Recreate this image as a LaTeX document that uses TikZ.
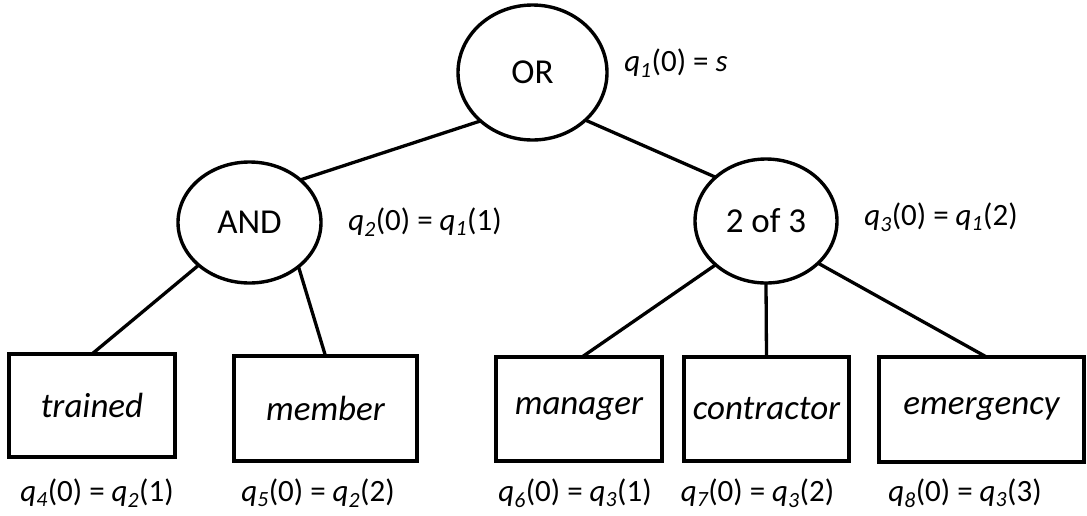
\documentclass[tikz,border=0pt]{standalone}
\usepackage{fontspec}
\setmainfont{Carlito}
\usetikzlibrary{shapes.geometric}
\newcommand\qsub[1]{\textit{q\textsubscript{#1}}}
\begin{document}
\begin{tikzpicture}[x=1pt,y=-1pt,
  gate/.style={ellipse,draw,line width=3.4pt,inner sep=0pt,outer sep=0pt,font=\fontsize{35}{40}\selectfont},
  leaf/.style={rectangle,draw,line width=3.6pt,inner sep=0pt,outer sep=0pt,font=\fontsize{35}{40}\selectfont\itshape},
  lbl/.style={inner sep=0pt,font=\fontsize{31}{36}\selectfont},
  edge/.style={line width=3.3pt}]
\useasboundingbox (0,0) rectangle (1087,515);
% gates
\node[gate,minimum width=149pt,minimum height=135pt] (OR) at (532.5,72.5) {OR};
\node[gate,minimum width=143pt,minimum height=121pt] (AND) at (249.5,222.5) {AND};
\node[gate,minimum width=142pt,minimum height=124pt] (TWO) at (766,221) {2 of 3};
% leaves
\node[leaf,minimum width=166pt,minimum height=103pt] (trained) at (92,405.5) {trained};
\node[leaf,minimum width=183pt,minimum height=105pt] (member) at (325.5,408.5) {member};
\node[leaf,minimum width=166pt,minimum height=104pt] (manager) at (579,409) {manager};
\node[leaf,minimum width=165pt,minimum height=104pt] (contractor) at (766.5,409) {contractor};
\node[leaf,minimum width=205pt,minimum height=105pt] (emergency) at (981.5,409.5) {emergency};
% labels
\node[lbl] (l1) at (676,63) {\qsub{1}(0) = \textit{s}};
\node[lbl] (l2) at (425,222) {\qsub{2}(0) = \qsub{1}(1)};
\node[lbl] (l3) at (941,217) {\qsub{3}(0) = \qsub{1}(2)};
\node[lbl] (l4) at (97,493) {\qsub{4}(0) = \qsub{2}(1)};
\node[lbl] (l5) at (318,493) {\qsub{5}(0) = \qsub{2}(2)};
\node[lbl] (l6) at (575,493) {\qsub{6}(0) = \qsub{3}(1)};
\node[lbl] (l7) at (757.5,493) {\qsub{7}(0) = \qsub{3}(2)};
\node[lbl] (l8) at (965,493) {\qsub{8}(0) = \qsub{3}(3)};
% connectors
\draw[edge] (OR.223) -- (AND.40);
\draw[edge] (OR.318) -- (TWO.139);
\draw[edge] (AND.220) -- (trained.north);
\draw[edge] (AND.318) -- (member.north);
\draw[edge] (TWO.221) -- ([xshift=3pt]manager.north);
\draw[edge] (TWO.270) -- (contractor.north);
\draw[edge] (TWO.321) -- ([xshift=5pt]emergency.north);
\end{tikzpicture}
\end{document}
